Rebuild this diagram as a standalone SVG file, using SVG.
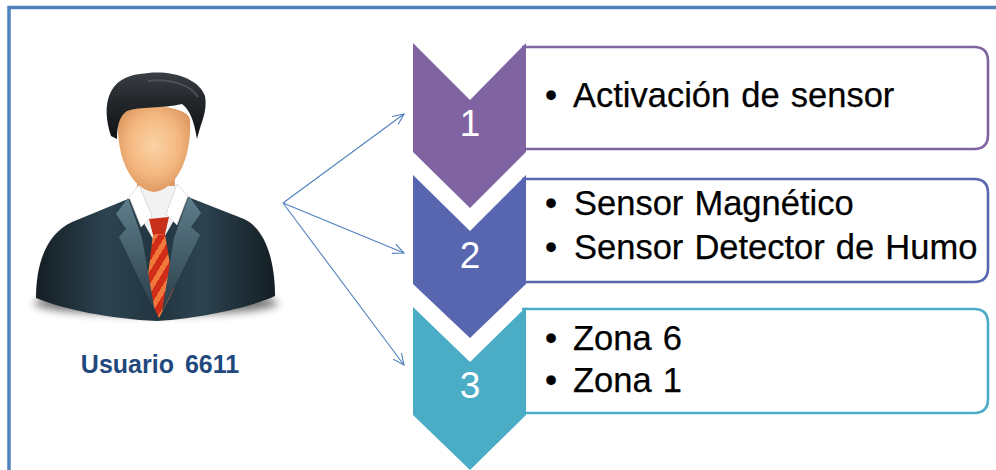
<svg xmlns="http://www.w3.org/2000/svg" width="996" height="470" viewBox="0 0 996 470">
  <defs>
    <style>
      .frame { fill: none; stroke: #4F81BD; stroke-width: 3.5; }
      .box { fill: #FFFFFF; stroke-width: 2.6; }
      .num { font-family: "Liberation Sans", Arial, sans-serif; font-size: 37px; fill: #FFFFFF; text-anchor: middle; }
      .item { font-family: "Liberation Sans", Arial, sans-serif; font-size: 34.5px; fill: #000000; word-spacing: 1.5px; stroke: #000; stroke-width: 0.25; }
      .label { font-family: "Liberation Sans", Arial, sans-serif; font-size: 25px; font-weight: bold; fill: #1F497D; text-anchor: middle; word-spacing: 4px; }
      .conn { fill: none; stroke: #4F81BD; stroke-width: 1.1; }
    </style>
    <marker id="openArrow" markerWidth="14" markerHeight="12" refX="12" refY="6" orient="auto" markerUnits="userSpaceOnUse">
      <path d="M1,1 L12,6 L1,11" fill="none" stroke="#4F81BD" stroke-width="1.1"/>
    </marker>
    <radialGradient id="faceGrad" cx="0.5" cy="0.45" r="0.6">
      <stop offset="0" stop-color="#FBD3A6"/>
      <stop offset="0.6" stop-color="#F3B67E"/>
      <stop offset="1" stop-color="#D9935B"/>
    </radialGradient>
    <linearGradient id="hairGrad" x1="0" y1="0" x2="0" y2="1">
      <stop offset="0" stop-color="#3A3F45"/>
      <stop offset="0.4" stop-color="#24282C"/>
      <stop offset="1" stop-color="#111315"/>
    </linearGradient>
    <linearGradient id="jacketGrad" x1="0" y1="0" x2="1" y2="0">
      <stop offset="0" stop-color="#141E24"/>
      <stop offset="0.3" stop-color="#2C4350"/>
      <stop offset="0.5" stop-color="#223540"/>
      <stop offset="0.7" stop-color="#2C4350"/>
      <stop offset="1" stop-color="#141E24"/>
    </linearGradient>
    <linearGradient id="lapelGrad" x1="0" y1="0" x2="0" y2="1">
      <stop offset="0" stop-color="#5F7E8C"/>
      <stop offset="1" stop-color="#2A3E48"/>
    </linearGradient>
    <linearGradient id="tieGrad" x1="0" y1="0" x2="10" y2="6" gradientUnits="userSpaceOnUse" spreadMethod="repeat">
      <stop offset="0" stop-color="#D02C17"/>
      <stop offset="0.55" stop-color="#D02C17"/>
      <stop offset="0.55" stop-color="#F0783A"/>
      <stop offset="1" stop-color="#F0783A"/>
    </linearGradient>
    <linearGradient id="neckGrad" x1="0" y1="0" x2="0" y2="1">
      <stop offset="0" stop-color="#C98552"/>
      <stop offset="1" stop-color="#E9B07C"/>
    </linearGradient>
    <filter id="soft" x="-20%" y="-100%" width="140%" height="300%">
      <feGaussianBlur stdDeviation="4"/>
    </filter>
  </defs>

  <!-- outer frame -->
  <rect class="frame" x="9" y="7.5" width="1000" height="480"/>

  <!-- user figure -->
  <g id="user">
    <ellipse cx="156" cy="303" rx="122" ry="12" fill="#000" opacity="0.55" filter="url(#soft)"/>
    <!-- neck -->
    <path d="M138,166 L174,166 L176,202 L136,202 Z" fill="url(#neckGrad)"/>
    <!-- jacket -->
    <path d="M36,298 C36,264 46,234 72,222 L128,199 L188,197 L244,219 C266,229 275,262 275,296 C254,306 204,318 157,321 C110,319 62,309 36,298 Z" fill="url(#jacketGrad)"/>
    <!-- shirt -->
    <path d="M129,197 L139,186 L176,186 L188,196 L158,248 Z" fill="#F2F2F2"/>
    <path d="M129,197 L139,185 L152,216 L141,227 Z" fill="#FFFFFF" stroke="#C8C8C8" stroke-width="0.6"/>
    <path d="M188,196 L177,184 L166,214 L177,225 Z" fill="#FFFFFF" stroke="#C8C8C8" stroke-width="0.6"/>
    <!-- tie -->
    <path d="M149,219 L169,217 L165,234 L153,235 Z" fill="#C9301A"/>
    <path d="M153,235 L165,234 L174,289 L159,318 L146,291 Z" fill="url(#tieGrad)"/>
    <!-- lapels -->
    <path d="M128,198 L116,214 L126,229 L119,237 L155,312 L142,238 Z" fill="url(#lapelGrad)"/>
    <path d="M189,196 L201,213 L191,227 L200,235 L162,312 L174,238 Z" fill="url(#lapelGrad)"/>
    <!-- face -->
    <path d="M118,120 C116,160 133,190 154,192 C175,190 192,160 190,120 C188,102 120,102 118,120 Z" fill="url(#faceGrad)"/>
    <!-- hair -->
    <path d="M111,136 C100,102 110,77 140,74 C166,69 198,76 205,96 C208,112 200,124 197,139 C194,121 190,110 182,104 C162,109 140,106 127,111 C119,116 117,127 117,139 Z" fill="url(#hairGrad)"/>
    <path d="M148,81 C170,78 191,85 198,97" fill="none" stroke="#5A5E63" stroke-width="2" opacity="0.7"/>
  </g>
  <text class="label" x="160" y="373">Usuario 6611</text>

  <!-- connectors -->
  <g id="connectors">
    <line class="conn" x1="283" y1="203" x2="404" y2="114" marker-end="url(#openArrow)"/>
    <line class="conn" x1="283" y1="203" x2="404" y2="253" marker-end="url(#openArrow)"/>
    <line class="conn" x1="283" y1="203" x2="404" y2="365" marker-end="url(#openArrow)"/>
  </g>

  <!-- step 1 -->
  <g id="step1">
    <path class="box" stroke="#8064A2" d="M522,47 H974 Q988,47 988,61 V135 Q988,149 974,149 H522"/>
    <path d="M413,43 L470,100 L526,43 L526,152 L470,208 L413,152 Z" fill="#8064A2"/>
    <text class="num" x="470" y="136">1</text>
    <text class="item" x="545" y="107">•</text>
    <text class="item" x="573" y="107">Activación de sensor</text>
  </g>

  <!-- step 2 -->
  <g id="step2">
    <path class="box" stroke="#5866B0" d="M522,179 H974 Q988,179 988,193 V268 Q988,282 974,282 H522"/>
    <path d="M413,175 L470,231 L526,175 L526,284 L470,338 L413,284 Z" fill="#5866B0"/>
    <text class="num" x="470" y="268">2</text>
    <text class="item" x="545" y="215">•</text>
    <text class="item" x="574" y="215">Sensor Magnético</text>
    <text class="item" x="545" y="259">•</text>
    <text class="item" x="574" y="259">Sensor Detector de Humo</text>
  </g>

  <!-- step 3 -->
  <g id="step3">
    <path class="box" stroke="#4BACC6" d="M522,309 H974 Q988,309 988,323 V399 Q988,413 974,413 H522"/>
    <path d="M413,307 L470,362 L526,307 L526,415 L470,470 L413,415 Z" fill="#4BACC6"/>
    <text class="num" x="470" y="398">3</text>
    <text class="item" x="545" y="350">•</text>
    <text class="item" x="573" y="350">Zona 6</text>
    <text class="item" x="545" y="392">•</text>
    <text class="item" x="573" y="392">Zona 1</text>
  </g>
</svg>
